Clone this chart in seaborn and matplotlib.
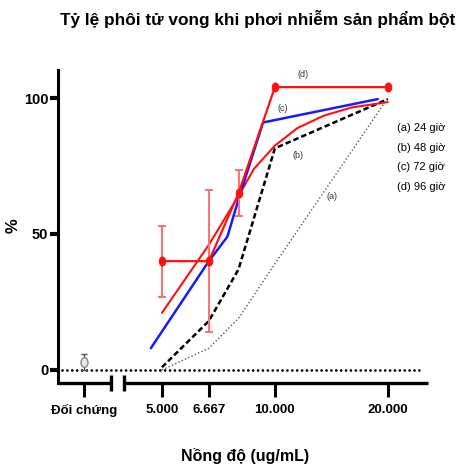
import matplotlib
matplotlib.use("Agg")
import matplotlib.pyplot as plt
from matplotlib.path import Path
from matplotlib.transforms import Affine2D
from matplotlib.ticker import NullLocator
import seaborn as sns

# ---- text ----
TITLE = "Tỷ lệ phôi tử vong khi phơi nhiễm sản phẩm bột"
X_LABEL = "Nồng độ (ug/mL)"
Y_LABEL = "%"
CONTROL_LABEL = "Đối chứng"
TICK_VALUES = [5, 6.667, 10, 20]
TICK_LABELS = ["5.000", "6.667", "10.000", "20.000"]
Y_TICKS = [0, 50, 100]
SERIES_LABELS = ["(a) 24 giờ", "(b) 48 giờ", "(c) 72 giờ", "(d) 96 giờ"]
TAGS = ["(a)", "(b)", "(c)", "(d)"]

# ---- data ----
control_mean = 3
control_err = 3

# (a) 24 h
conc_a = [5, 6.667, 8, 10, 20]
pct_a = [0, 8, 19, 39, 100]
# (b) 48 h
conc_b = [5, 6.667, 8, 10, 20]
pct_b = [1, 18, 37, 81.5, 99.6]
# (c) 72 h
conc_c = [4.67, 6.667, 7.47, 8.05, 9.3, 18.8]
pct_c = [8, 40, 49, 64, 91, 99.6]
# (d) 96 h, mean and error
conc_d = [5, 6.667, 8, 10, 20]
pct_d = [40, 40, 65, 104, 104]
err_d = [13, 26, 8.5, 0, 0]
# fitted curve for 96 h
conc_fit = [5, 6.667, 8, 8.8, 10, 11.5, 13.5, 16, 20]
pct_fit = [21, 46, 64, 74, 82.5, 89, 93.5, 96.5, 98.5]

# ---- layout constants ----
W, H = 459, 470
CTRL_X = 3.1            # where the control group sits on the broken axis
BREAK_L, BREAK_R = 3.66, 3.96
XLIM = (2.641, 25.6)
YLIM = (-4.8, 110.3)
TAG_POS = [(14.2, 63.6), (11.5, 79.0), (10.5, 96.3), (11.9, 108.5)]

sns.set_style("white")
plt.rcParams["font.family"] = ["Liberation Sans", "DejaVu Sans"]
plt.rcParams["font.weight"] = "bold"
for key in ("text.color", "axes.labelcolor", "xtick.color", "ytick.color"):
    plt.rcParams[key] = "black"

fig = plt.figure(figsize=(W / 100, H / 100), dpi=100)
ax = fig.add_axes([58 / W, (H - 383) / H, 370 / W, 313 / H])
ax.set_xscale("log")
ax.set_xlim(*XLIM)
ax.set_ylim(*YLIM)

ellipse = Path(Affine2D().scale(0.72, 1.0).transform_path(Path.unit_circle()).vertices,
               Path.unit_circle().codes)

# reference line at 0 %
ax.axhline(0, xmin=4 / 370, xmax=365 / 370, color="black", lw=2.0,
           dashes=(0.01, 1.75), dash_capstyle="round", zorder=1)

# (a) 24 h - fine dotted grey
sns.lineplot(x=conc_a, y=pct_a, ax=ax, estimator=None, sort=False, legend=False,
             color="#555555", lw=1.0, linestyle=(0, (1, 1.6)))
# (b) 48 h - dashed black
sns.lineplot(x=conc_b, y=pct_b, ax=ax, estimator=None, sort=False, legend=False,
             color="black", lw=1.8, linestyle=(0, (2.2, 1.2)))
# fitted curve (red)
sns.lineplot(x=conc_fit, y=pct_fit, ax=ax, estimator=None, sort=False, legend=False,
             color="#ff1010", lw=1.5)
# (c) 72 h - blue
sns.lineplot(x=conc_c, y=pct_c, ax=ax, estimator=None, sort=False, legend=False,
             color="#1a1aff", lw=1.8)
# (d) 96 h - red with markers and error bars
has_err = [e > 0 for e in err_d]
ax.errorbar([c for c, k in zip(conc_d, has_err) if k],
            [p for p, k in zip(pct_d, has_err) if k],
            yerr=[e for e, k in zip(err_d, has_err) if k],
            fmt="none", ecolor="#ff6f6f", elinewidth=1.4, capsize=3, capthick=1.4, zorder=3)
sns.lineplot(x=conc_d, y=pct_d, ax=ax, estimator=None, sort=False, legend=False,
             color="#ff1010", lw=1.6, marker=ellipse, markersize=6.5,
             markeredgecolor="#ff1010", markerfacecolor="#ff1010", zorder=4)

# control group
ax.errorbar([CTRL_X], [control_mean], yerr=[control_err], fmt="none",
            ecolor="#555555", elinewidth=1.0, capsize=2.5, capthick=1.0, zorder=3)
ax.plot([CTRL_X], [control_mean], linestyle="none", marker=ellipse, markersize=7,
        markerfacecolor="#e8e8e8", markeredgecolor="#888888", markeredgewidth=1.0, zorder=4)

# curve tags
for tag, (tx, ty) in zip(TAGS, TAG_POS):
    ax.text(tx, ty, tag, fontsize=6.5, fontweight="normal", color="#333333",
            ha="center", va="center")

# series key
for i, lab in enumerate(SERIES_LABELS):
    ax.text(0.916, 0.815 - i * 0.063, lab, transform=ax.transAxes, fontsize=8,
            fontweight="normal", color="black", ha="left", va="center")

# axes: left spine, broken bottom spine
for side in ["top", "right", "bottom"]:
    ax.spines[side].set_visible(False)
ax.spines["left"].set_linewidth(2.2)
ax.spines["left"].set_color("black")

xt = ax.get_xaxis_transform()
seg_kw = dict(transform=xt, color="black", lw=2.4, clip_on=False, solid_capstyle="butt")
ax.plot([XLIM[0], BREAK_L], [0, 0], **seg_kw)
ax.plot([BREAK_R, XLIM[1]], [0, 0], **seg_kw)
for bx in (BREAK_L, BREAK_R):
    ax.plot([bx, bx], [-0.024, 0.024], **seg_kw)

ax.set_xticks([CTRL_X] + TICK_VALUES)
ax.set_xticklabels([CONTROL_LABEL] + TICK_LABELS)
ax.xaxis.set_minor_locator(NullLocator())
ax.set_yticks(Y_TICKS)
ax.tick_params(axis="x", bottom=True, length=10, width=2.2, direction="out",
               pad=5, labelsize=9.5, color="black", labelcolor="black")
ax.tick_params(axis="y", left=True, length=6, width=3, direction="out",
               pad=1, labelsize=10.5, color="black", labelcolor="black")

ax.set_xlabel(X_LABEL, fontsize=11.5, fontweight="bold", va="center", color="black")
ax.xaxis.set_label_coords(0.505, -0.233)
ax.set_ylabel(Y_LABEL, fontsize=12, fontweight="bold", va="center", color="black")
ax.yaxis.set_label_coords(-0.122, 0.502)

fig.text(258 / W, 1 - 19 / H, TITLE, fontsize=12.4, fontweight="bold",
         ha="center", va="center", color="black")

fig.savefig("out.png", dpi=100)
